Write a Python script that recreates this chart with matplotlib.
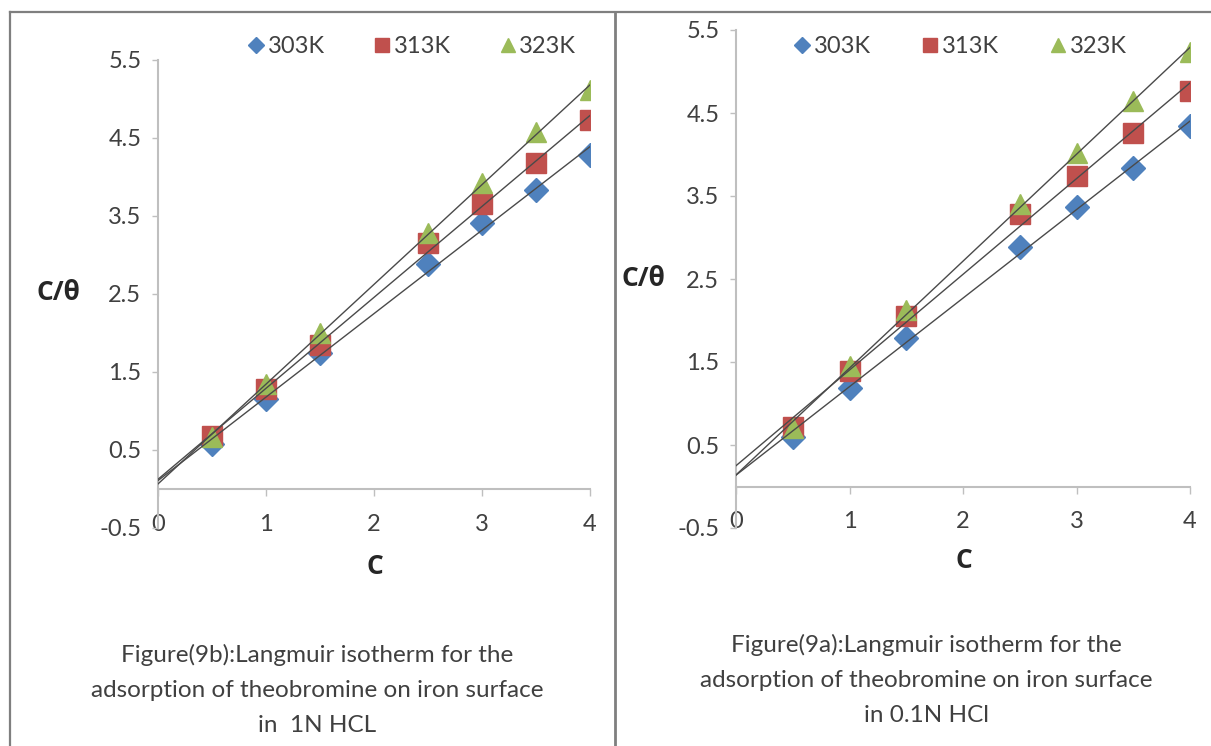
import matplotlib
matplotlib.use("Agg")
import matplotlib.pyplot as plt
from matplotlib.lines import Line2D
import numpy as np

plt.rcParams["font.family"] = ["Lato", "DejaVu Sans"]

conc = [0.5, 1, 1.5, 2.5, 3, 3.5, 4]
temps = ["303K", "313K", "323K"]

# C/theta, 1N HCl (Figure 9b)
hcl_1n_303 = [0.58, 1.15, 1.74, 2.89, 3.41, 3.83, 4.28]
hcl_1n_313 = [0.68, 1.28, 1.85, 3.15, 3.66, 4.18, 4.73]
hcl_1n_323 = [0.67, 1.35, 2.00, 3.28, 3.92, 4.58, 5.12]

# C/theta, 0.1N HCl (Figure 9a)
hcl_01n_303 = [0.60, 1.19, 1.79, 2.89, 3.37, 3.84, 4.34]
hcl_01n_313 = [0.72, 1.39, 2.05, 3.28, 3.74, 4.26, 4.76]
hcl_01n_323 = [0.70, 1.45, 2.13, 3.40, 4.02, 4.64, 5.24]

captions = [
    "Figure(9b):Langmuir isotherm for the\nadsorption of theobromine on iron surface\nin  1N HCL",
    "Figure(9a):Langmuir isotherm for the\nadsorption of theobromine on iron surface\nin 0.1N HCl",
]

colors = ["#4F81BD", "#C0504D", "#9BBB59"]
markers = ["D", "s", "^"]
msizes = [12, 14, 15]
W, H = 1211, 746
bold_font = ["Open Sans", "DejaVu Sans"]


def draw_panel(ax, series):
    x = np.array(conc)
    for vals, c, m, ms, lab in zip(series, colors, markers, msizes, temps):
        ax.plot(x, vals, ls="none", marker=m, ms=ms, color=c, mec=c,
                label=lab, zorder=3)
    for vals in series:
        k, b = np.polyfit(x, vals, 1)
        xx = np.array([0, 4])
        ax.plot(xx, k * xx + b, color="#4a4a4a", lw=1.0, zorder=4)
    ax.set_xlim(0, 4)
    ax.set_ylim(-0.5, 5.5)
    ax.set_xticks([0, 1, 2, 3, 4])
    ax.set_yticks([-0.5, 0.5, 1.5, 2.5, 3.5, 4.5, 5.5])
    ax.set_yticklabels(["-0.5", "0.5", "1.5", "2.5", "3.5", "4.5", "5.5"])
    for s in ["top", "right"]:
        ax.spines[s].set_visible(False)
    ax.spines["bottom"].set_position(("data", 0))
    for s in ["left", "bottom"]:
        ax.spines[s].set_color("#bfbfbf")
        ax.spines[s].set_linewidth(1.5)
    ax.tick_params(axis="y", colors="#bfbfbf", labelcolor="#404040",
                   length=4, width=1, labelsize=17, pad=8)
    ax.tick_params(axis="x", colors="#bfbfbf", labelcolor="#404040",
                   length=5, width=1, labelsize=17, pad=13)
    ax.patch.set_visible(False)


def add_legend(ax, anchor, spacing):
    ax.legend(loc="center", bbox_to_anchor=anchor, ncol=3, frameon=False,
              fontsize=17, markerscale=0.7, handlelength=0.6,
              handletextpad=0.2, columnspacing=spacing, labelcolor="#404040")


fig = plt.figure(figsize=(W / 100, H / 100), dpi=100)

axl = fig.add_axes([158 / W, 1 - 528 / H, 432 / W, 468 / H])
draw_panel(axl, [hcl_1n_303, hcl_1n_313, hcl_1n_323])
add_legend(axl, (0.59, 1.028), 2.1)

axr = fig.add_axes([736 / W, 1 - 528 / H, 454 / W, 498 / H])
draw_panel(axr, [hcl_01n_303, hcl_01n_313, hcl_01n_323])
add_legend(axr, (0.496, 0.966), 2.2)

# axis titles and captions
for xp, yp, s in [(58, 293, "C/θ"), (643, 279, "C/θ"), (375, 566, "C"), (964, 561, "C")]:
    fig.text(xp / W, 1 - yp / H, s, fontsize=19, fontweight="bold",
             family=bold_font, color="#262626", ha="center", va="center")
fig.text(317 / W, 1 - 690 / H, captions[0], fontsize=17.5, color="#404040",
         ha="center", va="center", linespacing=1.8)
fig.text(926 / W, 1 - 680 / H, captions[1], fontsize=17.5, color="#404040",
         ha="center", va="center", linespacing=1.8)

# panel borders
bc = "#7f7f7f"
fig.add_artist(Line2D([10 / W, 1], [1 - 12 / H, 1 - 12 / H], color=bc, lw=1.6))
fig.add_artist(Line2D([10 / W, 10 / W], [0, 1 - 12 / H], color=bc, lw=1.6))
fig.add_artist(Line2D([615 / W, 615 / W], [0, 1 - 12 / H], color=bc, lw=2.0))

fig.savefig("out.png", dpi=100)
